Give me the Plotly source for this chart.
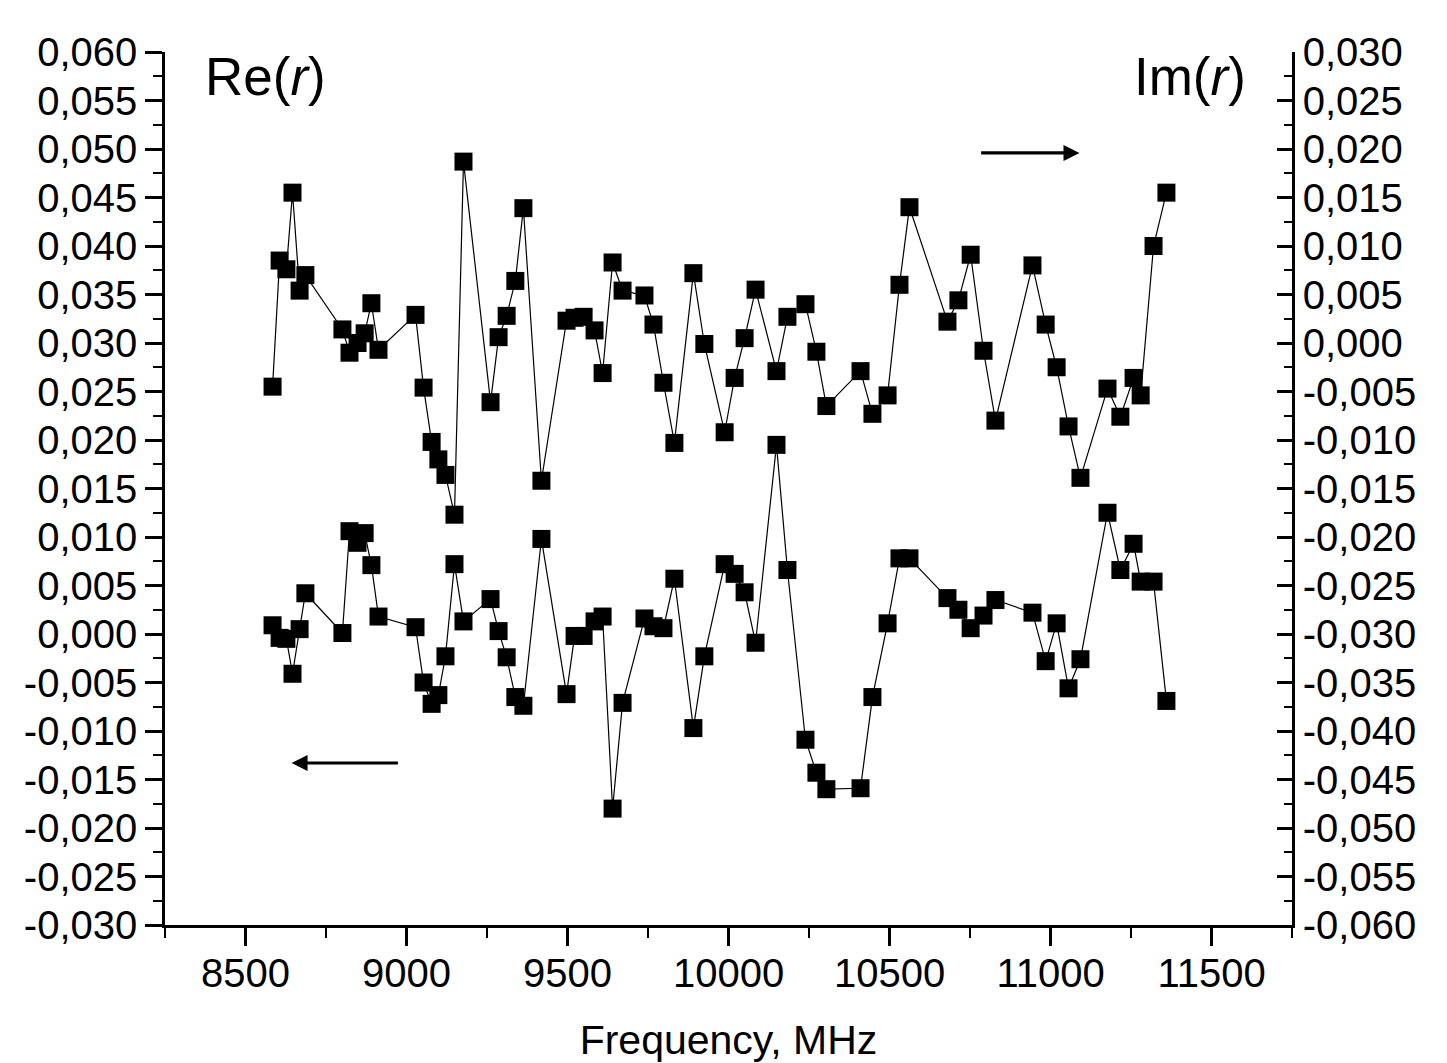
import plotly.graph_objects as go

# Frequency points, MHz
freq = [
    8584, 8606, 8627, 8646, 8668, 8686,
    8801, 8823, 8848, 8870, 8891, 8913,
    9028, 9053, 9078, 9099, 9121, 9149, 9177,
    9261, 9286, 9311, 9338, 9363,
    9419,
    9497, 9522, 9550, 9584, 9609, 9640, 9671,
    9739, 9767, 9798, 9832,
    9891, 9925,
    9988, 10019, 10050, 10084,
    10149, 10183,
    10239, 10273, 10304,
    10410, 10447,
    10494, 10531, 10562,
    10680, 10714, 10752, 10792, 10829,
    10944, 10985, 11019, 11056, 11093,
    11177, 11217, 11258, 11280, 11320, 11360,
]

# Real part of r (left axis)
re_r = [
    0.0009, -0.0004, -0.0005, -0.0041, 0.0005, 0.0042,
    0.0001, 0.0106, 0.0094, 0.0104, 0.0071, 0.0018,
    0.0007, -0.0050, -0.0072, -0.0063, -0.0023, 0.0072, 0.0013,
    0.0036, 0.0003, -0.0024, -0.0065, -0.0074,
    0.0098,
    -0.0062, -0.0002, -0.0002, 0.0013, 0.0018, -0.0180, -0.0071,
    0.0016, 0.0008, 0.0006, 0.0057,
    -0.0097, -0.0023,
    0.0072, 0.0062, 0.0043, -0.0009,
    0.0195, 0.0066,
    -0.0109, -0.0143, -0.0160,
    -0.0159, -0.0065,
    0.0011, 0.0078, 0.0078,
    0.0037, 0.0025, 0.0006, 0.0019, 0.0035,
    0.0022, -0.0028, 0.0011, -0.0056, -0.0026,
    0.0125, 0.0066, 0.0093, 0.0054, 0.0054, -0.0069,
]

# Imaginary part of r (right axis)
im_r = [
    -0.0045, 0.0085, 0.0076, 0.0155, 0.0054, 0.0070,
    0.0014, -0.0010, 0.0000, 0.0010, 0.0041, -0.0007,
    0.0029, -0.0046, -0.0102, -0.0120, -0.0136, -0.0177, 0.0187,
    -0.0061, 0.0006, 0.0028, 0.0064, 0.0139,
    -0.0142,
    0.0023, 0.0026, 0.0027, 0.0013, -0.0031, 0.0083, 0.0054,
    0.0049, 0.0019, -0.0041, -0.0103,
    0.0072, -0.0001,
    -0.0092, -0.0036, 0.0005, 0.0055,
    -0.0029, 0.0027,
    0.0040, -0.0009, -0.0065,
    -0.0029, -0.0073,
    -0.0054, 0.0060, 0.0140,
    0.0022, 0.0044, 0.0091, -0.0008, -0.0080,
    0.0080, 0.0019, -0.0025, -0.0086, -0.0139,
    -0.0047, -0.0076, -0.0036, -0.0054, 0.0100, 0.0155,
]

# Axis ticks
x_ticks = [8500, 9000, 9500, 10000, 10500, 11000, 11500]
x_tick_labels = ["8500", "9000", "9500", "10000", "10500", "11000", "11500"]
left_ticks = [round(-0.030 + 0.005 * i, 3) for i in range(19)]
right_ticks = [round(-0.060 + 0.005 * i, 3) for i in range(19)]


def comma_label(v):
    s = f"{abs(v):.3f}".replace(".", ",")
    return ("-" + s) if v < 0 else s


left_tick_labels = [comma_label(v) for v in left_ticks]
right_tick_labels = [comma_label(v) for v in right_ticks]

FONT = "Liberation Sans, Arial, sans-serif"
TICK_SIZE = 40

fig = go.Figure()

fig.add_trace(go.Scatter(
    x=freq, y=re_r, mode="lines+markers", yaxis="y",
    line=dict(color="black", width=1.2),
    marker=dict(symbol="square", size=18, color="black"),
    showlegend=False,
))
fig.add_trace(go.Scatter(
    x=freq, y=im_r, mode="lines+markers", yaxis="y2",
    line=dict(color="black", width=1.2),
    marker=dict(symbol="square", size=18, color="black"),
    showlegend=False,
))

fig.update_layout(
    width=1447, height=1063,
    margin=dict(l=165, r=155, t=52, b=138),
    paper_bgcolor="white", plot_bgcolor="white",
    font=dict(family=FONT, size=TICK_SIZE, color="black"),
    xaxis=dict(
        range=[8250, 11750], tickvals=x_ticks, ticktext=x_tick_labels,
        automargin=False, ticklabelstandoff=-7,
        showgrid=False, zeroline=False, showline=True, linecolor="black", linewidth=2.5,
        ticks="outside", ticklen=18, tickwidth=2.5, tickcolor="black",
        minor=dict(dtick=250, tick0=8250, ticks="outside", ticklen=10, tickwidth=2, tickcolor="black"),
        tickfont=dict(size=TICK_SIZE),
        title=dict(text="Frequency, MHz", font=dict(size=41), standoff=50),
        mirror=False,
    ),
    yaxis=dict(
        range=[-0.030, 0.060], tickvals=left_ticks, ticktext=left_tick_labels,
        automargin=False,
        showgrid=False, zeroline=False, showline=True, linecolor="black", linewidth=2.5,
        ticks="outside", ticklen=17, tickwidth=2.5, tickcolor="black",
        minor=dict(dtick=0.0025, tick0=-0.030, ticks="outside", ticklen=9, tickwidth=2, tickcolor="black"),
        tickfont=dict(size=TICK_SIZE),
    ),
    yaxis2=dict(
        range=[-0.060, 0.030], tickvals=right_ticks, ticktext=right_tick_labels,
        overlaying="y", side="right", anchor="x", automargin=False,
        showgrid=False, zeroline=False, showline=True, linecolor="black", linewidth=2.5,
        ticks="inside", ticklen=15, tickwidth=2.5, tickcolor="black",
        minor=dict(dtick=0.0025, tick0=-0.060, ticks="inside", ticklen=8, tickwidth=2, tickcolor="black"),
        tickfont=dict(size=TICK_SIZE),
    ),
    annotations=[
        dict(text="Re(<i>r</i>)", xref="paper", yref="paper", x=0.0896, y=0.972,
             showarrow=False, font=dict(size=53), xanchor="center", yanchor="middle"),
        dict(text="Im(<i>r</i>)", xref="paper", yref="paper", x=0.9095, y=0.972,
             showarrow=False, font=dict(size=53), xanchor="center", yanchor="middle"),
        # arrow pointing to the right-hand axis
        dict(x=11090, y=0.0196, xref="x", yref="y2", ax=10780, ay=0.0196, axref="x", ayref="y2",
             text="", showarrow=True, arrowhead=2, arrowsize=1.0, arrowwidth=3.2, arrowcolor="black"),
        # arrow pointing to the left-hand axis
        dict(x=8643, y=-0.0133, xref="x", yref="y", ax=8978, ay=-0.0133, axref="x", ayref="y",
             text="", showarrow=True, arrowhead=2, arrowsize=1.0, arrowwidth=3.2, arrowcolor="black"),
    ],
)

fig.write_html("out.html")
